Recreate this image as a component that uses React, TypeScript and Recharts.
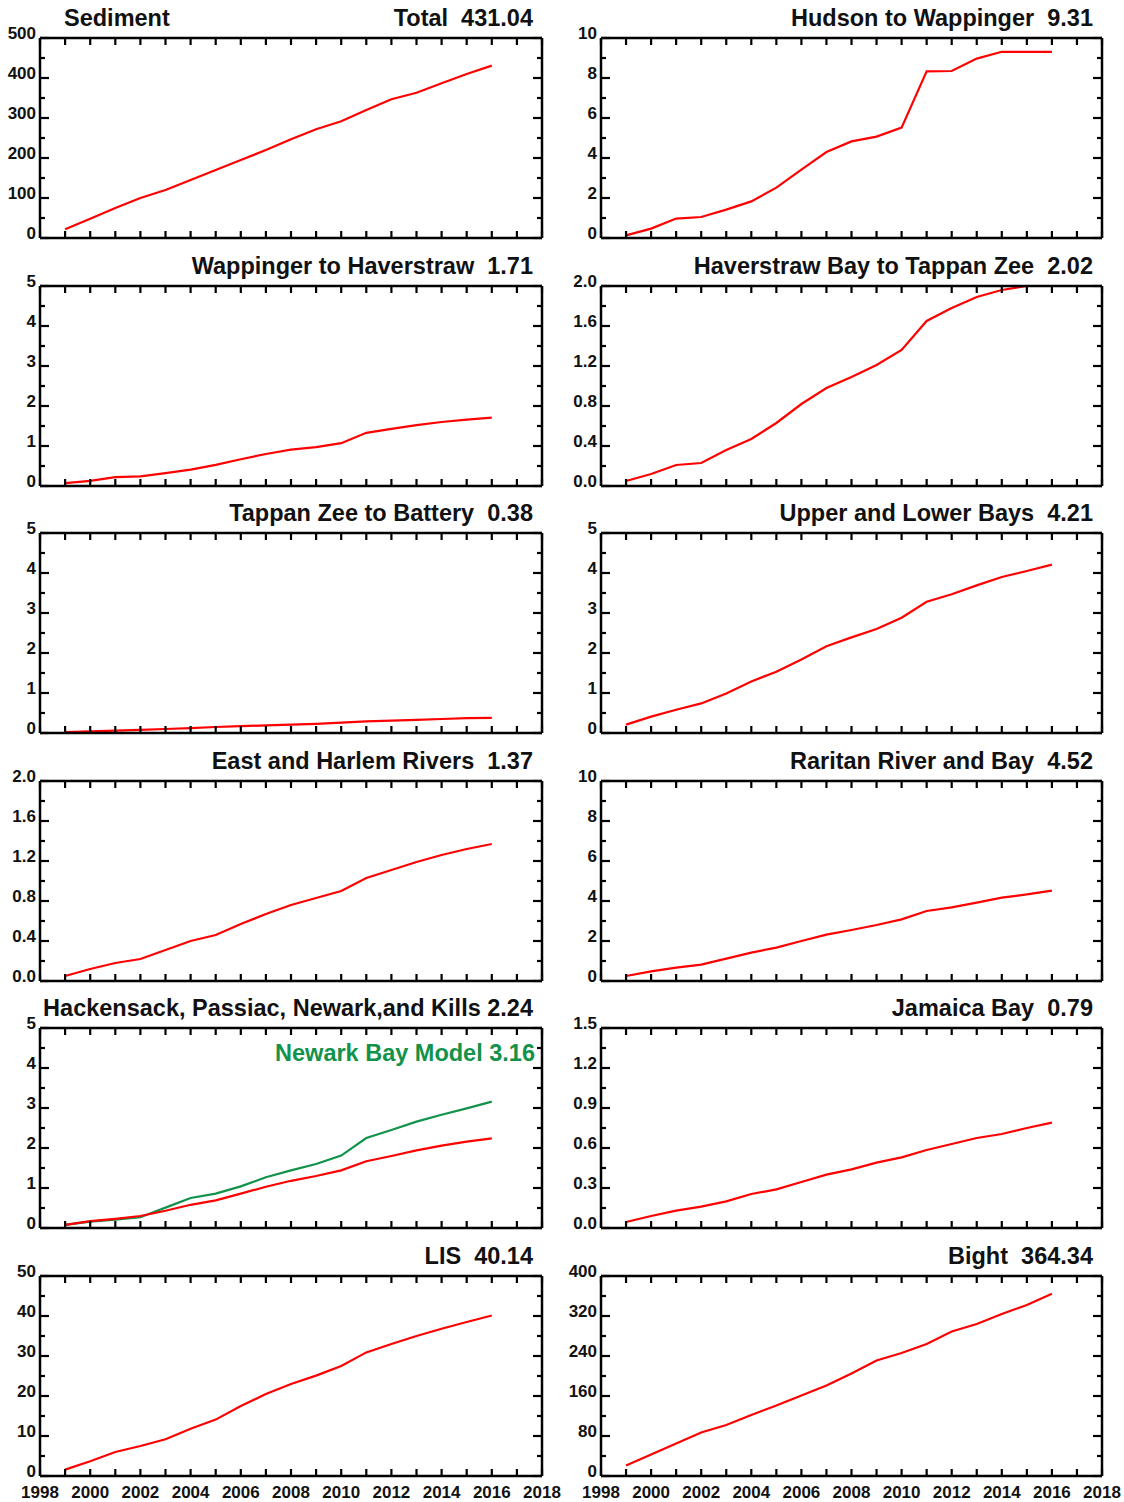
import { LineChart, Line, XAxis, YAxis } from 'recharts'

const years = [1999, 2000, 2001, 2002, 2003, 2004, 2005, 2006, 2007, 2008, 2009, 2010, 2011, 2012, 2013, 2014, 2015, 2016]
const yearTicks = [1998, 1999, 2000, 2001, 2002, 2003, 2004, 2005, 2006, 2007, 2008, 2009, 2010, 2011, 2012, 2013, 2014, 2015, 2016, 2017, 2018]
const yearLabels = [1998, 2000, 2002, 2004, 2006, 2008, 2010, 2012, 2014, 2016, 2018]

const sediment = [22, 48, 75, 100, 120, 145, 170, 195, 220, 247, 272, 292, 320, 347, 363, 387, 410, 431.04]
const hudsonWappinger = [0.13, 0.47, 0.97, 1.05, 1.42, 1.83, 2.52, 3.42, 4.3, 4.83, 5.07, 5.52, 8.33, 8.35, 8.97, 9.31, 9.31, 9.31]
const wappingerHaverstraw = [0.07, 0.13, 0.22, 0.24, 0.32, 0.41, 0.53, 0.67, 0.8, 0.91, 0.97, 1.07, 1.33, 1.43, 1.52, 1.6, 1.66, 1.71]
const haverstrawTappan = [0.05, 0.12, 0.21, 0.23, 0.36, 0.47, 0.63, 0.82, 0.98, 1.09, 1.21, 1.36, 1.65, 1.78, 1.89, 1.96, 2.0, 2.02]
const tappanBattery = [0.02, 0.04, 0.06, 0.08, 0.1, 0.12, 0.15, 0.17, 0.19, 0.21, 0.23, 0.26, 0.29, 0.31, 0.33, 0.35, 0.37, 0.38]
const upperLowerBays = [0.21, 0.41, 0.58, 0.74, 0.99, 1.29, 1.53, 1.84, 2.17, 2.39, 2.6, 2.88, 3.28, 3.47, 3.69, 3.9, 4.05, 4.21]
const eastHarlem = [0.05, 0.12, 0.18, 0.22, 0.31, 0.4, 0.46, 0.57, 0.67, 0.76, 0.83, 0.9, 1.03, 1.11, 1.19, 1.26, 1.32, 1.37]
const raritan = [0.25, 0.48, 0.67, 0.82, 1.12, 1.42, 1.67, 2.0, 2.32, 2.55, 2.8, 3.08, 3.5, 3.68, 3.92, 4.17, 4.33, 4.52]
const hackensack = [0.08, 0.17, 0.23, 0.3, 0.43, 0.58, 0.69, 0.86, 1.03, 1.18, 1.3, 1.44, 1.67, 1.8, 1.94, 2.06, 2.16, 2.24]
const newarkBayModel = [0.08, 0.16, 0.21, 0.27, 0.51, 0.75, 0.86, 1.04, 1.27, 1.44, 1.6, 1.81, 2.25, 2.45, 2.66, 2.83, 2.99, 3.16]
const jamaicaBay = [0.045, 0.09, 0.13, 0.16, 0.2, 0.255, 0.29, 0.345, 0.4, 0.44, 0.49, 0.53, 0.585, 0.63, 0.675, 0.705, 0.75, 0.79]
const lis = [1.6, 3.7, 6.0, 7.5, 9.2, 11.8, 14.1, 17.5, 20.5, 23.0, 25.1, 27.5, 30.9, 33.0, 35.0, 36.8, 38.5, 40.14]
const bight = [21, 43, 65, 87, 102, 122, 141, 161, 181, 205, 231, 246, 264, 289, 304, 324, 342, 364.34]

const ticks500 = [0, 100, 200, 300, 400, 500]
const ticks10 = [0, 2, 4, 6, 8, 10]
const ticks5 = [0, 1, 2, 3, 4, 5]
const ticks2 = [0, 0.4, 0.8, 1.2, 1.6, 2.0]
const ticks15 = [0, 0.3, 0.6, 0.9, 1.2, 1.5]
const ticks50 = [0, 10, 20, 30, 40, 50]
const ticks400 = [0, 80, 160, 240, 320, 400]

const FONT = 'Arial, "Liberation Sans", Helvetica, sans-serif'
const RED = '#ff0000'
const GREEN = '#12924a'

interface Panel {
  title: string
  name?: string
  values: number[]
  extra?: number[]
  majors: number[]
  digits: number
}

const panels: Panel[] = [
  { title: 'Total  431.04', name: 'Sediment', values: sediment, majors: ticks500, digits: 0 },
  { title: 'Hudson to Wappinger  9.31', values: hudsonWappinger, majors: ticks10, digits: 0 },
  { title: 'Wappinger to Haverstraw  1.71', values: wappingerHaverstraw, majors: ticks5, digits: 0 },
  { title: 'Haverstraw Bay to Tappan Zee  2.02', values: haverstrawTappan, majors: ticks2, digits: 1 },
  { title: 'Tappan Zee to Battery  0.38', values: tappanBattery, majors: ticks5, digits: 0 },
  { title: 'Upper and Lower Bays  4.21', values: upperLowerBays, majors: ticks5, digits: 0 },
  { title: 'East and Harlem Rivers  1.37', values: eastHarlem, majors: ticks2, digits: 1 },
  { title: 'Raritan River and Bay  4.52', values: raritan, majors: ticks10, digits: 0 },
  { title: 'Hackensack, Passiac, Newark,and Kills 2.24', values: hackensack, extra: newarkBayModel, majors: ticks5, digits: 0 },
  { title: 'Jamaica Bay  0.79', values: jamaicaBay, majors: ticks15, digits: 1 },
  { title: 'LIS  40.14', values: lis, majors: ticks50, digits: 0 },
  { title: 'Bight  364.34', values: bight, majors: ticks400, digits: 0 },
]

const plotTops = [38, 285.5, 533, 780.5, 1028, 1275.5]
const PLOT_H = 200
const cols = [
  { left: 0, plotLeft: 40, plotRight: 542 },
  { left: 562, plotLeft: 601, plotRight: 1102 },
]

const labelStyle = { fontFamily: FONT, fontWeight: 700, fontSize: 17, fill: '#111' }

function withMinors(majors: number[]) {
  const out: number[] = []
  majors.forEach((m, i) => {
    out.push(m)
    if (i < majors.length - 1) out.push((m + majors[i + 1]) / 2)
  })
  return out
}

function PanelChart({ p, row, col }: { p: Panel; row: number; col: number }) {
  const c = cols[col]
  const bottom = row === 5
  const bottomH = bottom ? 30 : 4
  const data = years.map((y, i) => ({ year: y, v: p.values[i], g: p.extra ? p.extra[i] : null }))
  const yTicks = withMinors(p.majors)
  const max = p.majors[p.majors.length - 1]
  const isMajor = (v: number) => p.majors.some((m) => Math.abs(m - v) < 1e-9)
  const frame = { stroke: '#000', strokeWidth: 2.5 }

  return (
    <div style={{ position: 'absolute', left: c.left, top: plotTops[row] - 38 }}>
      <LineChart
        width={562}
        height={38 + PLOT_H + bottomH}
        data={data}
        margin={{ top: 36, right: 0, bottom: 0, left: 0 }}
      >
        <XAxis
          xAxisId="bottom"
          dataKey="year"
          type="number"
          domain={[1998, 2018]}
          ticks={yearTicks}
          interval={0}
          height={bottomH}
          tickSize={0}
          tickMargin={0}
          tickLine={false}
          axisLine={frame}
          tick={(t: any) => (
            <g>
              <line x1={t.x} y1={t.y} x2={t.x} y2={t.y - 7} stroke="#000" strokeWidth={2.2} />
              {bottom && yearLabels.includes(t.payload.value) && (
                <text x={t.x} y={t.y + 22} textAnchor="middle" style={labelStyle}>{t.payload.value}</text>
              )}
            </g>
          )}
        />
        <XAxis
          xAxisId="top"
          orientation="top"
          dataKey="year"
          type="number"
          domain={[1998, 2018]}
          ticks={yearTicks}
          interval={0}
          height={2}
          tickSize={0}
          tickMargin={0}
          tickLine={false}
          axisLine={frame}
          tick={(t: any) => (
            <line x1={t.x} y1={t.y} x2={t.x} y2={t.y + 7} stroke="#000" strokeWidth={2.2} />
          )}
        />
        <YAxis
          yAxisId="left"
          type="number"
          domain={[0, max]}
          allowDataOverflow
          ticks={yTicks}
          interval={0}
          width={c.plotLeft - c.left}
          tickSize={0}
          tickMargin={0}
          tickLine={false}
          axisLine={frame}
          tick={(t: any) => {
            const major = isMajor(t.payload.value)
            return (
              <g>
                <line x1={t.x} y1={t.y} x2={t.x + (major ? 9 : 5)} y2={t.y} stroke="#000" strokeWidth={2.2} />
                {major && (
                  <text x={t.x - 4} y={t.y + 1} textAnchor="end" style={labelStyle}>
                    {t.payload.value.toFixed(p.digits)}
                  </text>
                )}
              </g>
            )
          }}
        />
        <YAxis
          yAxisId="right"
          orientation="right"
          type="number"
          domain={[0, max]}
          allowDataOverflow
          ticks={yTicks}
          interval={0}
          width={562 - (c.plotRight - c.left)}
          tickSize={0}
          tickMargin={0}
          tickLine={false}
          axisLine={frame}
          tick={(t: any) => {
            const major = isMajor(t.payload.value)
            return <line x1={t.x} y1={t.y} x2={t.x - (major ? 9 : 5)} y2={t.y} stroke="#000" strokeWidth={2.2} />
          }}
        />
        {p.extra && (
          <Line
            xAxisId="bottom"
            yAxisId="left"
            type="linear"
            dataKey="g"
            stroke={GREEN}
            strokeWidth={2.2}
            dot={false}
            isAnimationActive={false}
          />
        )}
        <Line
          xAxisId="bottom"
          yAxisId="left"
          type="linear"
          dataKey="v"
          stroke={RED}
          strokeWidth={2.2}
          dot={false}
          isAnimationActive={false}
        />
      </LineChart>
    </div>
  )
}

export default function App() {
  const titleStyle = { fontFamily: FONT, fontWeight: 700, fontSize: 23.5, fill: '#111' }
  return (
    <div style={{ position: 'absolute', left: 0, top: 0, width: 1124, height: 1502, background: '#fff' }}>
      {panels.map((p, i) => (
        <PanelChart key={p.title} p={p} row={Math.floor(i / 2)} col={i % 2} />
      ))}
      <svg width={1124} height={1502} style={{ position: 'absolute', left: 0, top: 0, pointerEvents: 'none' }}>
        {panels.map((p, i) => {
          const row = Math.floor(i / 2)
          const c = cols[i % 2]
          const base = plotTops[row] - 12
          return (
            <g key={p.title}>
              <text x={c.plotRight - 9} y={base} textAnchor="end" xmlSpace="preserve" style={{ ...titleStyle, whiteSpace: 'pre' }}>
                {p.title}
              </text>
              {p.name && (
                <text x={64} y={base} style={titleStyle}>{p.name}</text>
              )}
              {p.extra && (
                <text x={c.plotRight - 7} y={plotTops[row] + 33} textAnchor="end" style={{ ...titleStyle, fill: GREEN }}>
                  Newark Bay Model 3.16
                </text>
              )}
            </g>
          )
        })}
      </svg>
    </div>
  )
}
